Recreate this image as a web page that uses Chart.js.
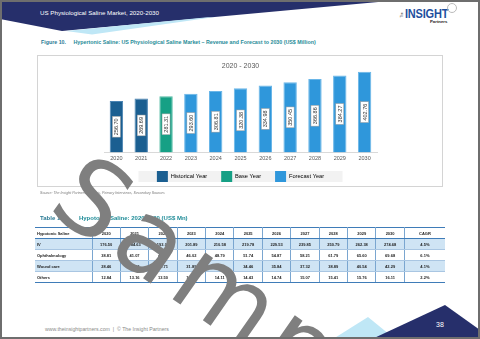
<!DOCTYPE html>
<html>
<head>
<meta charset="utf-8">
<script src="https://cdn.jsdelivr.net/npm/chart.js@4"></script>
<style>
  html, body { margin:0; padding:0; background:#fff; }
  body { width:480px; height:339px; overflow:hidden; position:relative; font-family:"Liberation Sans", Arial, sans-serif; }
  .frame { position:absolute; left:0; top:0; width:480px; height:339px; box-sizing:border-box; border:2px solid #6e6e6e; z-index:20; pointer-events:none; }
  .shape { position:absolute; }
  .head-title { position:absolute; left:40px; top:9px; color:#fff; font-size:6.2px; }
  .logo { position:absolute; left:405px; top:6px; color:#1d4f9e; font-weight:bold; font-size:11px; transform:scaleY(1.2); transform-origin:0 0; letter-spacing:-0.2px; }
  .logo-the { position:absolute; left:399px; top:13px; font-size:3px; color:#333; transform:rotate(-90deg); }
  .logo-sub { position:absolute; left:430px; top:19px; font-size:4.3px; font-weight:bold; color:#222; }
  .logo-ring { position:absolute; left:447px; top:3px; width:8px; height:8px; border:1px solid #bbb; border-radius:50%; }
  .fig { position:absolute; left:41px; top:39px; font-size:5.3px; font-weight:bold; color:#1f8c98; white-space:nowrap; }
  .fig b { color:#2a7a94; margin-right:6px; }
  .chart-box { position:absolute; left:37px; top:55px; width:406px; height:132px; box-sizing:border-box; border:1px solid #d4d4d4; }
  .chart-wrap { position:absolute; left:37px; top:55px; width:406px; height:145px; }
  .source { position:absolute; left:40px; top:191px; font-size:3.6px; font-style:italic; color:#7a7a7a; white-space:nowrap; }
  .tbl-title { position:absolute; left:40px; top:215px; font-size:6px; font-weight:bold; color:#1f8c98; white-space:nowrap; }
  .tbl-title b { color:#2a7a94; margin-right:14px; }
  table { position:absolute; left:35px; top:227px; width:410px; border-collapse:collapse; table-layout:fixed; font-size:4px; color:#222; }
  th, td { height:10px; padding:0 2px; border-left:1px solid #7aa6d0; border-right:1px solid #7aa6d0; text-align:center; white-space:nowrap; overflow:hidden; }
  th { font-weight:bold; border-top:1.5px solid #3f7cb8; border-bottom:1.5px solid #3f7cb8; }
  td { border-bottom:1px solid #a9c6e2; font-weight:bold; }
  td:first-child, th:first-child { text-align:left; border-left:none; }
  td:last-child, th:last-child { border-right:none; }
  tr.alt td { background:#cfe4f4; }
  tr:last-child td { border-bottom:1.5px solid #3f7cb8; }
  .footer { position:absolute; left:45px; top:326px; font-size:5.2px; color:#8a8a8a; white-space:nowrap; }
  .page { position:absolute; left:436px; top:321px; font-size:7px; color:#fff; }
  .watermark { position:absolute; left:96px; top:138px; font-family:"DejaVu Sans", sans-serif; font-size:104px; line-height:1; letter-spacing:8px; color:#7f7f7f; transform:rotate(35deg); transform-origin:0 0; white-space:nowrap; z-index:10; }
</style>
</head>
<body>
<div class="shape" style="left:0;top:0;width:480px;height:40px;background:#262f6b;clip-path:polygon(0 0,400px 0,62px 31px,0 19px);"></div>
<div class="shape" style="left:0;top:0;width:480px;height:40px;background:#bfe7f6;clip-path:polygon(66px 31px,92px 34.5px,215px 17px,205px 17.6px);"></div>
<div class="head-title">US Physiological Saline Market, 2020-2030</div>
<div class="logo-the">The</div>
<div class="logo">INSIGHT</div>
<div class="logo-ring"></div>
<div class="logo-sub">Partners</div>

<div class="fig"><b>Figure 10.</b> Hypertonic Saline: US Physiological Saline Market – Revenue and Forecast to 2030 (US$ Million)</div>

<div class="chart-box"></div>
<div class="chart-wrap"><canvas id="revenueChart"></canvas></div>

<div class="source">Source: The Insight Partners Analysis, Primary Interviews, Secondary Sources</div>

<div class="tbl-title"><b>Table 11.</b>Hypotonic Saline: 2020-2030 (US$ Mn)</div>
<table id="seg-table"></table>

<div class="shape" style="left:0;top:300px;width:480px;height:39px;background:#bfe7f6;clip-path:polygon(333px 39px,368px 17px,395px 39px);"></div>
<div class="shape" style="left:0;top:300px;width:480px;height:39px;background:#262f6b;clip-path:polygon(372px 39px,445px 5px,480px 30px,480px 39px);"></div>
<div class="page">38</div>
<div class="footer">www.theinsightpartners.com &nbsp;| &nbsp;© The Insight Partners</div>

<div class="watermark">Sample</div>
<div class="frame"></div>

<script>
// ── DATA ──────────────────────────────────────────────────
const years = ['2020','2021','2022','2023','2024','2025','2026','2027','2028','2029','2030'];
const revenue = [256.70, 269.69, 281.31, 293.60, 306.81, 320.38, 334.98, 350.45, 366.86, 384.27, 402.76];
const yearTypes = ['Historical Year','Historical Year','Base Year','Forecast Year','Forecast Year','Forecast Year',
                   'Forecast Year','Forecast Year','Forecast Year','Forecast Year','Forecast Year'];
const legendNames = ['Historical Year','Base Year','Forecast Year'];

const segments = ['IV','Ophthalmology','Wound care','Others'];
const ivValues = [176.50, 184.63, 193.04, 201.89, 210.58, 219.78, 229.53, 239.85, 250.79, 262.38, 274.68];
const ophthalmologyValues = [38.81, 41.07, 43.47, 46.02, 48.79, 51.74, 54.87, 58.21, 61.79, 65.60, 69.68];
const woundCareValues = [28.46, 29.53, 30.71, 31.89, 33.12, 34.46, 35.84, 37.32, 38.89, 40.54, 42.29];
const othersValues = [12.84, 13.16, 13.50, 13.80, 14.11, 14.43, 14.74, 15.07, 15.41, 15.76, 16.11];
const cagr = ['4.5%','6.1%','4.1%','2.2%'];

const fills   = { 'Historical Year':'#1b5f91', 'Base Year':'#16a085', 'Forecast Year':'#2f97db' };
const borders = { 'Historical Year':'#4a84b3', 'Base Year':'#52bba4', 'Forecast Year':'#6ab6e8' };

// ── TABLE ─────────────────────────────────────────────────
function renderTable() {
  const rows = [ivValues, ophthalmologyValues, woundCareValues, othersValues];
  let html = '<colgroup><col style="width:57px">' + years.map(() => '<col style="width:28.4px">').join('') +
             '<col style="width:40.6px"></colgroup>';
  html += '<tr><th>Hypotonic Saline</th>' + years.map(y => `<th>${y}</th>`).join('') + '<th>CAGR</th></tr>';
  html += segments.map((s, i) => `<tr class="${i % 2 === 0 ? 'alt' : ''}"><td>${s}</td>` +
    rows[i].map(v => `<td>${v.toFixed(2)}</td>`).join('') + `<td>${cagr[i]}</td></tr>`).join('');
  document.getElementById('seg-table').innerHTML = html;
}
renderTable();

// ── PLUGINS ───────────────────────────────────────────────
const barLabels = {
  id: 'barLabels',
  afterDatasetsDraw(chart) {
    const ctx = chart.ctx;
    const meta = chart.getDatasetMeta(0);
    ctx.save();
    ctx.font = '5.5px "Liberation Sans", Arial, sans-serif';
    ctx.textAlign = 'center';
    ctx.textBaseline = 'middle';
    meta.data.forEach((bar, i) => {
      const { x, y, base } = bar.getProps(['x', 'y', 'base'], true);
      const txt = revenue[i].toFixed(2);
      const w = ctx.measureText(txt).width + 4, h = 8;
      ctx.save();
      ctx.translate(x, (y + base) / 2);
      ctx.rotate(-Math.PI / 2);
      ctx.fillStyle = '#fff';
      ctx.fillRect(-w / 2, -h / 2, w, h);
      ctx.strokeStyle = '#9a9a9a';
      ctx.lineWidth = 0.5;
      ctx.strokeRect(-w / 2, -h / 2, w, h);
      ctx.fillStyle = '#333';
      ctx.fillText(txt, 0, 0.5);
      ctx.restore();
    });
    ctx.restore();
  }
};

// pull the legend up under the axis and give it the grey strip
const legendStrip = {
  id: 'legendStrip',
  afterLayout(chart) {
    chart.legend.top -= 8;
    chart.legend.bottom -= 8;
  },
  beforeDraw(chart) {
    const lg = chart.legend;
    const cx = (lg.left + lg.right) / 2;
    const ctx = chart.ctx;
    ctx.save();
    ctx.fillStyle = '#f2f2f2';
    ctx.fillRect(cx - 102, lg.top + 14, 204, 11);
    ctx.restore();
  }
};

// ── CHART ─────────────────────────────────────────────────
const ctx = document.getElementById('revenueChart').getContext('2d');
new Chart(ctx, {
  type: 'bar',
  data: {
    labels: years,
    datasets: [{
      label: 'Revenue (US$ Million)',
      data: revenue,
      backgroundColor: yearTypes.map(t => fills[t]),
      borderColor: yearTypes.map(t => borders[t]),
      borderWidth: 1,
      categoryPercentage: 1,
      barPercentage: 0.54,
    }]
  },
  options: {
    responsive: true,
    maintainAspectRatio: false,
    animation: false,
    layout: { padding: { left: 67, right: 66, top: 0, bottom: 0 } },
    plugins: {
      title: {
        display: true,
        text: '2020 - 2030',
        color: '#595959',
        font: { size: 7, family: '"Liberation Sans", Arial, sans-serif', weight: 'normal' },
        padding: { top: 7, bottom: 0 }
      },
      legend: {
        position: 'bottom',
        labels: {
          boxWidth: 11,
          boxHeight: 11,
          padding: 14,
          color: '#595959',
          font: { size: 5.7, family: '"Liberation Sans", Arial, sans-serif' },
          generateLabels: () => legendNames.map(n => ({
            text: n, fillStyle: fills[n], strokeStyle: fills[n], lineWidth: 0, hidden: false
          }))
        }
      },
      tooltip: { enabled: false }
    },
    scales: {
      x: {
        grid: { display: false, drawTicks: false },
        border: { color: '#d9d9d9' },
        ticks: { color: '#595959', padding: 3, font: { size: 5.5, family: '"Liberation Sans", Arial, sans-serif' } }
      },
      y: {
        display: false,
        min: 0,
        max: 410
      }
    }
  },
  plugins: [barLabels, legendStrip]
});
</script>
</body>
</html>
